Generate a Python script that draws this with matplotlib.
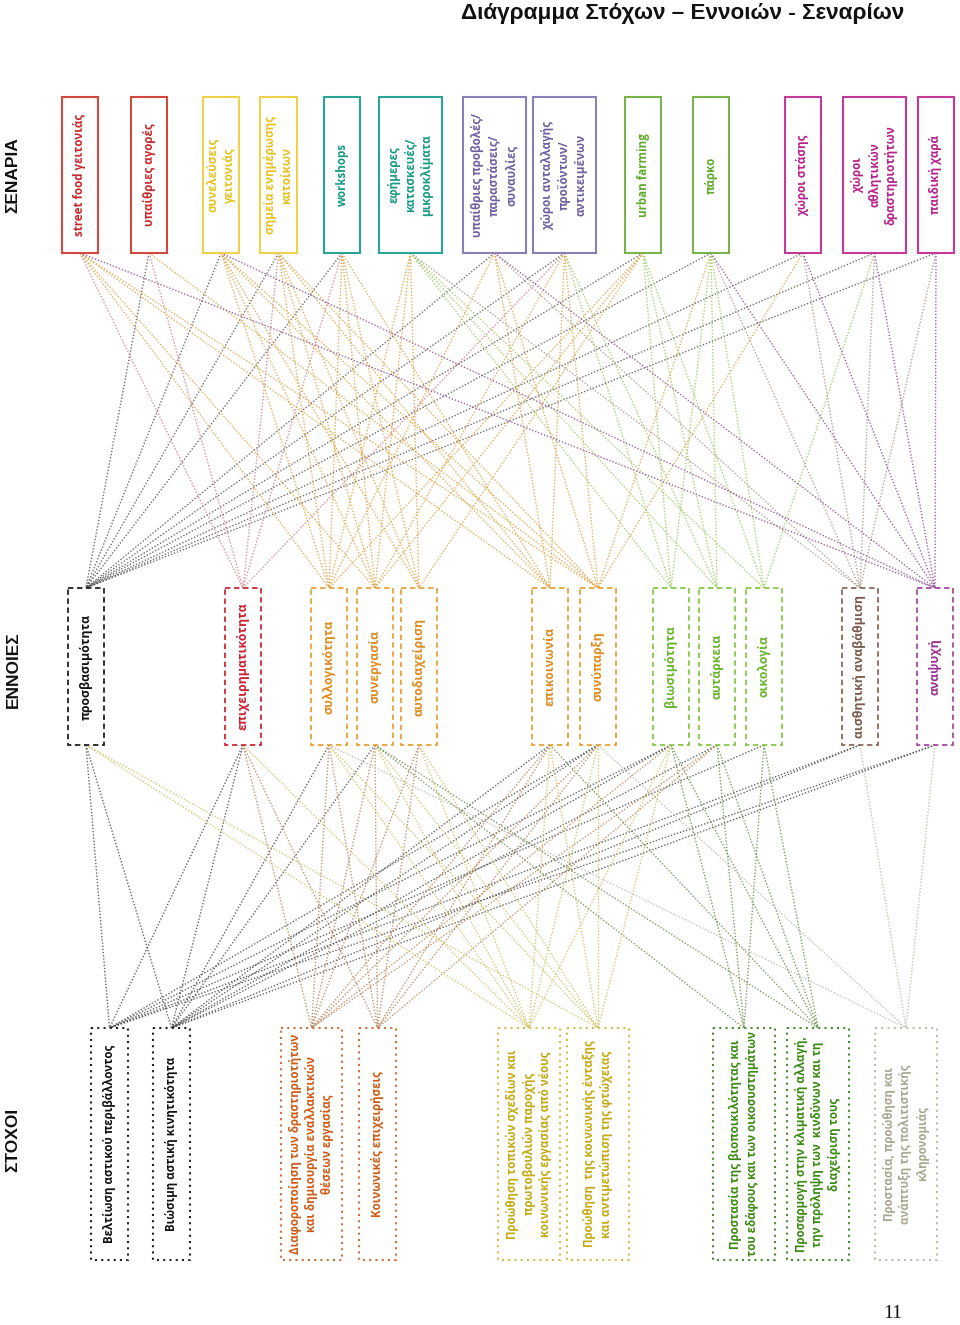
import matplotlib
matplotlib.use("Agg")
import matplotlib.pyplot as plt
from matplotlib.patches import Rectangle

plt.rcParams['font.family'] = ['Open Sans', 'DejaVu Sans']

# ---------------- data ----------------
title = "Διάγραμμα Στόχων – Εννοιών - Σεναρίων"
row_labels = ["ΣΕΝΑΡΙΑ", "ΕΝΝΟΙΕΣ", "ΣΤΟΧΟΙ"]
page_number = "11"

scenarios = [
    "street food γειτονιάς",
    "υπαίθριες αγορές",
    "συνελεύσεις\nγειτονιάς",
    "σημεία ενημέρωσης\nκατοίκων",
    "workshops",
    "εφήμερες\nκατασκευές/\nμικροκλίματα",
    "υπαίθριες προβολές/\nπαραστάσεις/\nσυναυλίες",
    "χώροι ανταλλαγής\nπροϊόντων/\nαντικειμένων",
    "urban farming",
    "πάρκο",
    "χώροι στάσης",
    "χώροι\nαθλητικών\nδραστηριοτήτων",
    "παιδική χαρά",
]
scenario_groups = ["red", "red", "yellow", "yellow", "teal", "teal",
                   "purple", "purple", "green", "green",
                   "magenta", "magenta", "magenta"]

concepts = [
    "προσβασιμότητα",
    "επιχειρηματικότητα",
    "συλλογικότητα",
    "συνεργασία",
    "αυτοδιαχείριση",
    "επικοινωνία",
    "συνύπαρξη",
    "βιωσιμότητα",
    "αυτάρκεια",
    "οικολογία",
    "αισθητική αναβάθμιση",
    "αναψυχή",
]
concept_groups = ["black", "red", "orange", "orange", "orange", "orange",
                  "orange", "green", "green", "green", "brown", "purple"]

goals = [
    "Βελτίωση αστικού περιβάλλοντος",
    "Βιώσιμη αστική κινητικότητα",
    "Διαφοροποίηση των δραστηριοτήτων\nκαι δημιουργία εναλλακτικών\nθέσεων εργασίας",
    "Κοινωνικές επιχειρήσεις",
    "Προώθηση τοπικών σχεδίων και\nπρωτοβουλιών παροχής\nκοινωνικής εργασίας από νέους",
    "Προώθηση  της κοινωνικής ένταξης\nκαι αντιμετώπιση της φτώχειας",
    "Προστασία της βιοποικιλότητας και\nτου εδάφους και των οικοσυστημάτων",
    "Προσαρμογή στην κλιματική αλλαγή,\nτην πρόληψη των  κινδύνων και τη\nδιαχείριση τους",
    "Προστασία, προώθηση και\nανάπτυξη της πολιτιστικής\nκληρονομιάς",
]
goal_groups = ["black", "black", "orange", "orange", "olive", "olive",
               "green", "green", "gray"]

# scenario indices linked to each concept
concept_scenarios = [
    [1, 2, 3, 4, 6, 7, 8, 9, 10, 11, 12],
    [0, 1, 3, 4, 7],
    [0, 2, 3, 4, 5, 6, 8],
    [0, 2, 3, 4, 5, 7, 8],
    [2, 3, 4, 5, 8],
    [0, 2, 3, 4, 6, 7],
    [0, 1, 2, 3, 6, 7, 9, 10],
    [5, 7, 8, 9],
    [5, 7, 8, 9],
    [5, 8, 9, 11],
    [5, 6, 9, 10, 11, 12],
    [0, 2, 6, 9, 10, 11, 12],
]

# concept indices linked to each goal
goal_concepts = [
    [0, 1, 6, 7, 9, 10, 11],
    [0, 1, 2, 3, 5, 6, 7, 8, 10, 11],
    [1, 2, 3, 4, 5, 6, 7, 8],
    [1, 2, 3, 4, 5, 6, 8],
    [0, 1, 2, 3, 4, 5, 6, 7],
    [0, 2, 3, 4, 5, 6, 7],
    [3, 7, 8, 9],
    [3, 5, 7, 8, 9],
    [2, 6, 10, 11],
]

# ---------------- layout / style ----------------
scen_x = [(62, 98), (131, 167), (203, 239), (260, 297), (324, 360), (379, 442),
          (463, 526), (533, 596), (625, 661), (693, 729), (785, 821), (843, 906),
          (918, 954)]
conc_x = [(68, 104), (225, 261), (311, 347), (357, 393), (401, 437), (532, 568),
          (580, 616), (653, 689), (699, 735), (746, 782), (842, 878), (917, 953)]
goal_x = [(91, 128), (153, 190), (281, 342), (359, 396), (498, 560), (567, 629),
          (713, 775), (787, 849), (875, 937)]
SCEN_Y = (97, 253)
CONC_Y = (588, 745)
GOAL_Y = (1028, 1260)

scen_col = {"red": ("#d2483f", "#c8282c"), "yellow": ("#efd24a", "#e6c21c"),
            "teal": ("#2aa595", "#159a86"), "purple": ("#8a80b8", "#6e60a0"),
            "green": ("#78b44a", "#5faa2a"), "magenta": ("#c43a98", "#b8208a")}
conc_col = {"black": ("#222222", "#111111", "#555555"),
            "red": ("#cc2a3a", "#cc1f30", "#d8788c"),
            "orange": ("#e6a23a", "#e08a1a", "#e0a040"),
            "green": ("#88c848", "#66b52a", "#9cc860"),
            "brown": ("#8a6a5a", "#7a5a4a", "#a8968a"),
            "purple": ("#a84aa0", "#9a3090", "#8a4a8e")}
goal_col = {"black": ("#222222", "#111111", "#4a4a4a"),
            "orange": ("#d0703a", "#d05a14", "#b88058"),
            "olive": ("#d2bc4a", "#c4aa10", "#cdbf60"),
            "green": ("#4a8a30", "#3a8a10", "#6a8a48"),
            "gray": ("#bcbcaa", "#a8a890", "#b8b8a8")}

fig = plt.figure(figsize=(9.6, 13.25), dpi=100)
ax = fig.add_axes([0, 0, 1, 1])
ax.set_xlim(0, 960)
ax.set_ylim(1325, 0)
ax.axis("off")

dot = (0, (1.0, 1.3))

# lines scenario -> concept (colored by concept)
for ci, slist in enumerate(concept_scenarios):
    cx = sum(conc_x[ci]) / 2
    lc = conc_col[concept_groups[ci]][2]
    for si in slist:
        sx = sum(scen_x[si]) / 2
        ax.plot([sx, cx], [SCEN_Y[1], CONC_Y[0]], color=lc, lw=1.0,
                ls=dot, alpha=0.85, zorder=1)

# lines concept -> goal (colored by goal)
for gi, clist in enumerate(goal_concepts):
    gx = sum(goal_x[gi]) / 2
    lc = goal_col[goal_groups[gi]][2]
    for ci in clist:
        cx = sum(conc_x[ci]) / 2
        ax.plot([cx, gx], [CONC_Y[1], GOAL_Y[0]], color=lc, lw=1.0,
                ls=dot, alpha=0.85, zorder=1)


def box(x0, x1, y0, y1, text, edge, tcol, ls, lw, fs, weight="bold", ls_text=1.35):
    ax.add_patch(Rectangle((x0, y0), x1 - x0, y1 - y0, fill=True, facecolor="white",
                           edgecolor=edge, lw=lw, ls=ls, zorder=3))
    ax.text((x0 + x1) / 2, (y0 + y1) / 2, text, rotation=90, ha="center", va="center",
            multialignment="center", color=tcol, fontsize=fs, fontweight=weight,
            linespacing=ls_text, zorder=4)


for i, name in enumerate(scenarios):
    e, t = scen_col[scenario_groups[i]]
    box(scen_x[i][0], scen_x[i][1], SCEN_Y[0], SCEN_Y[1], name, e, t, "-", 1.5, 8.4)

for i, name in enumerate(concepts):
    e, t, _ = conc_col[concept_groups[i]]
    box(conc_x[i][0], conc_x[i][1], CONC_Y[0], CONC_Y[1], name, e, t, (0, (3, 2)), 1.3, 8.8)

for i, name in enumerate(goals):
    e, t, _ = goal_col[goal_groups[i]]
    box(goal_x[i][0], goal_x[i][1], GOAL_Y[0], GOAL_Y[1], name, e, t, (0, (1, 2)), 1.5, 8.3)

# labels
ax.text(683, 14, title, ha="center", va="center", fontsize=16.2, fontweight="bold",
        family=["Liberation Sans", "DejaVu Sans"], color="#111111")
for lab, y in zip(row_labels, [175, 670, 1140]):
    ax.text(13, y, lab, rotation=90, ha="center", va="center", fontsize=12.5,
            fontweight="bold", family=["Liberation Sans", "DejaVu Sans"], color="#111111")
ax.text(893, 1314, page_number, ha="center", va="center", fontsize=14,
        family=["Liberation Serif", "DejaVu Serif"], color="#111111")

fig.savefig("out.png", dpi=100, facecolor="white")
